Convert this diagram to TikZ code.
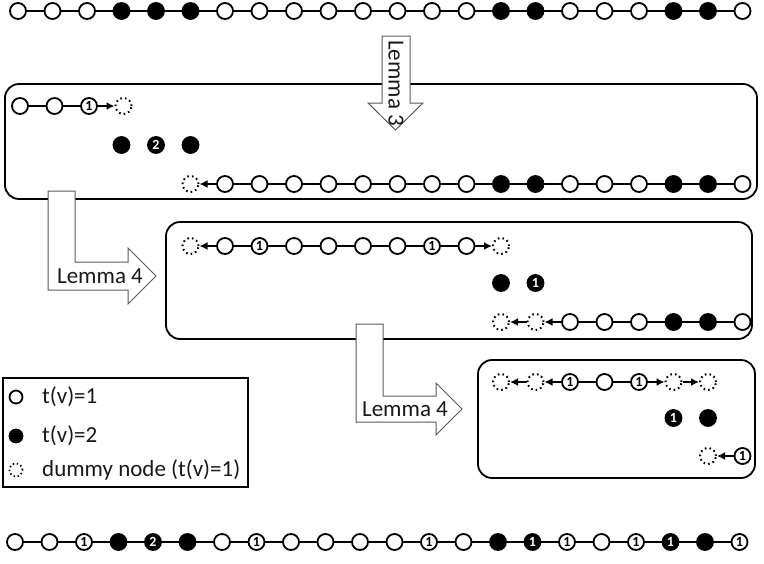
\documentclass[tikz,border=0pt]{standalone}
\usepackage{fontspec}
\setmainfont{Carlito}
\usetikzlibrary{arrows.meta}
\begin{document}
\begin{tikzpicture}[x=1pt,y=-1pt,
  lbl/.style={font=\fontsize{14}{14}\selectfont\bfseries, inner sep=0pt},
  wn/.style={circle, draw, line width=1.8pt, fill=white, minimum size=16pt, inner sep=0pt},
  kn/.style={wn, fill=black},
  dn/.style={circle, draw, line width=2pt, dash pattern=on 1.6pt off 3.1pt, minimum size=16pt, inner sep=0pt},
  w1/.style={wn, label={[lbl]center:1}},
  k1/.style={kn, label={[lbl,text=white]center:1}},
  k2/.style={kn, label={[lbl,text=white]center:2}},
  ln/.style={line width=1.6pt},
  arr/.style={ln, -{Latex[length=8pt,width=8pt]}},
  bx/.style={line width=1.8pt, rounded corners=14pt},
  lem/.style={draw=black!65, line width=1pt, fill=white},
  lemtxt/.style={font=\fontsize{23}{23}\selectfont, text=black!90, inner sep=0pt},
  legtxt/.style={font=\fontsize{23}{23}\selectfont, text=black!90, anchor=west, inner sep=0pt},
  lw/.style={circle, draw, line width=1.8pt, minimum size=13pt, inner sep=0pt},
]
\useasboundingbox (0,0) rectangle (764,563);

% boxes
\draw[bx] (5,84) rectangle (757,199);
\draw[bx] (166,222) rectangle (752,339);
\draw[bx] (478,360) rectangle (755,478);

% lemma arrows
\draw[lem] (382,36) -- (410,36) -- (410,103) -- (423,103) -- (395.5,130) -- (368,103) -- (382,103) -- cycle;
\node[lemtxt, rotate=-90] (l3) at (396,83) {Lemma 3};
\draw[lem] (48,191) -- (75,191) -- (75,262) -- (128,262) -- (128,248) -- (156,276) -- (128,304) -- (128,290) -- (48,290) -- cycle;
\node[lemtxt] (l4a) at (100,276) {Lemma 4};
\draw[lem] (356,324) -- (383,324) -- (383,396) -- (436,396) -- (436,383) -- (462,409) -- (436,435) -- (436,422) -- (356,422) -- cycle;
\node[lemtxt] (l4b) at (405,409) {Lemma 4};

% top row
\foreach \t [count=\i from 0] in {wn,wn,wn,kn,kn,kn,wn,wn,wn,wn,wn,wn,wn,wn,kn,kn,wn,wn,wn,kn,kn,wn}
  \node[\t] (t\i) at (18+34.5*\i,11) {};
\foreach \i [remember=\i as \j (initially 0)] in {1,...,21} \draw[ln] (t\j) -- (t\i);

% box 1
\node[wn] (ba0) at (20,106) {};
\node[wn] (ba1) at (54.5,106) {};
\node[w1] (ba2) at (89,106) {};
\node[dn] (ba3) at (123.5,106) {};
\draw[ln] (ba0) -- (ba1);
\draw[ln] (ba1) -- (ba2);
\draw[arr] (ba2) -- (ba3);
\node[kn] (bm3) at (18+34.5*3,145) {};
\node[k2] (bm4) at (18+34.5*4,145) {};
\node[kn] (bm5) at (18+34.5*5,145) {};
\node[dn] (bb5) at (18+34.5*5,184) {};
\foreach \t [count=\i from 6] in {wn,wn,wn,wn,wn,wn,wn,wn,kn,kn,wn,wn,wn,kn,kn,wn}
  \node[\t] (bb\i) at (18+34.5*\i,184) {};
\foreach \i [remember=\i as \j (initially 6)] in {7,...,21} \draw[ln] (bb\j) -- (bb\i);
\draw[arr] (bb6) -- (bb5);

% box 2
\node[dn] (ca5) at (18+34.5*5,246) {};
\foreach \t [count=\i from 6] in {wn,w1,wn,wn,wn,wn,w1,wn}
  \node[\t] (ca\i) at (18+34.5*\i,246) {};
\node[dn] (ca14) at (18+34.5*14,246) {};
\foreach \i [remember=\i as \j (initially 6)] in {7,...,13} \draw[ln] (ca\j) -- (ca\i);
\draw[arr] (ca6) -- (ca5);
\draw[arr] (ca13) -- (ca14);
\node[kn] (cm14) at (18+34.5*14,283) {};
\node[k1] (cm15) at (18+34.5*15,283) {};
\node[dn] (cb14) at (18+34.5*14,322) {};
\node[dn] (cb15) at (18+34.5*15,322) {};
\foreach \t [count=\i from 16] in {wn,wn,wn,kn,kn,wn}
  \node[\t] (cb\i) at (18+34.5*\i,322) {};
\foreach \i [remember=\i as \j (initially 16)] in {17,...,21} \draw[ln] (cb\j) -- (cb\i);
\draw[arr] (cb15) -- (cb14);
\draw[arr] (cb16) -- (cb15);

% box 3
\foreach \t [count=\i from 14] in {dn,dn,w1,wn,w1,dn,dn}
  \node[\t] (da\i) at (18+34.5*\i,382) {};
\draw[arr] (da15) -- (da14);
\draw[arr] (da16) -- (da15);
\draw[ln] (da16) -- (da17);
\draw[ln] (da17) -- (da18);
\draw[arr] (da18) -- (da19);
\draw[arr] (da19) -- (da20);
\node[k1] (dm19) at (18+34.5*19,418) {};
\node[kn] (dm20) at (18+34.5*20,418) {};
\node[dn] (db20) at (18+34.5*20,456) {};
\node[w1] (db21) at (18+34.5*21,456) {};
\draw[arr] (db21) -- (db20);

% legend
\draw[line width=1.5pt] (3,378) rectangle (248,487);
\node[lw] (g1) at (16,397) {};
\node[lw, fill=black] (g2) at (16,436) {};
\node[lw, draw, line width=1.7pt, dash pattern=on 1.4pt off 2.6pt] (g3) at (16,470) {};
\node[legtxt] (g1t) at (42,397) {t(v)=1};
\node[legtxt] (g2t) at (42,436) {t(v)=2};
\node[legtxt] (g3t) at (42,470) {dummy node (t(v)=1)};

% bottom row
\foreach \t [count=\i from 0] in {wn,wn,w1,kn,k2,kn,wn,w1,wn,wn,wn,wn,w1,wn,kn,k1,w1,wn,w1,k1,kn,w1}
  \node[\t] (e\i) at (15+34.5*\i,542) {};
\foreach \i [remember=\i as \j (initially 0)] in {1,...,21} \draw[ln] (e\j) -- (e\i);
\end{tikzpicture}
\end{document}
